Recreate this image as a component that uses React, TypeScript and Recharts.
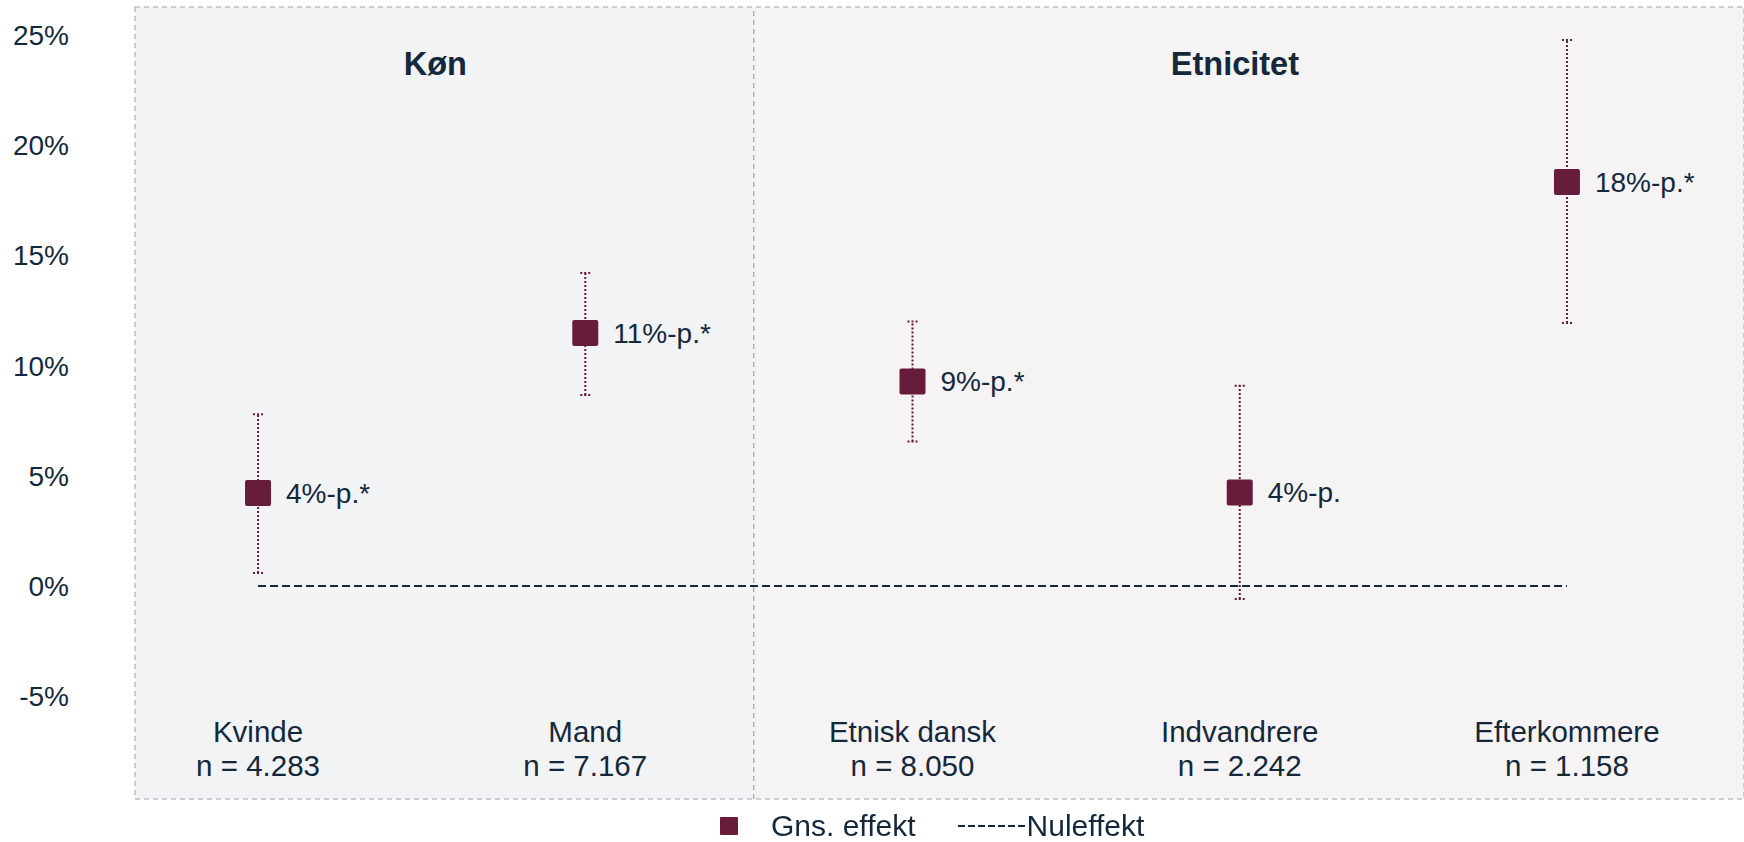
import {
  ComposedChart,
  Scatter,
  Line,
  XAxis,
  YAxis,
  ZAxis,
  ErrorBar,
  LabelList,
  ReferenceArea,
  ReferenceLine,
  Legend,
} from "recharts";

const FONT = "'Liberation Sans', Arial, sans-serif";
const TEXT = "#14283c";
const MAROON = "#661c3a";

// categories along the x axis, with sample sizes shown under each one
const categories = ["Kvinde", "Mand", "Etnisk dansk", "Indvandrere", "Efterkommere"];
const sampleSizes = ["4.283", "7.167", "8.050", "2.242", "1.158"];

// average effect in percentage points and the confidence interval
const effects = [4.22, 11.48, 9.28, 4.25, 18.33];
const lowerBounds = [0.59, 8.67, 6.56, -0.59, 11.93];
const upperBounds = [7.8, 14.2, 12.0, 9.09, 24.77];
const significant = [true, true, true, false, true];

const groupTitles = ["Køn", "Etnicitet"];
const yTicks = [-5, 0, 5, 10, 15, 20, 25];
const zeroLine = [
  { x: 0, y: 0 },
  { x: 4, y: 0 },
];

const X_DOMAIN: [number, number] = [-0.376, 4.541];
const Y_DOMAIN: [number, number] = [-9.66, 26.27];
const SPLIT = 1.515;

const points = categories.map((c, i) => ({
  x: i,
  y: effects[i],
  err: [effects[i] - lowerBounds[i], upperBounds[i] - effects[i]],
  label: `${Math.round(effects[i])}%-p.${significant[i] ? "*" : ""}`,
}));

const CategoryTick = (props: any) => {
  const { x, y, payload } = props;
  const i = payload.value;
  return (
    <g>
      <text x={x} y={y - 67} dy="0.35em" textAnchor="middle" fontSize={29.5} fill={TEXT} fontFamily={FONT}>
        {categories[i]}
      </text>
      <text x={x} y={y - 33} dy="0.35em" textAnchor="middle" fontSize={29.5} fill={TEXT} fontFamily={FONT}>
        {`n = ${sampleSizes[i]}`}
      </text>
    </g>
  );
};

const GroupTitle = (props: any) => {
  const { viewBox, text, shift = 0 } = props;
  if (!viewBox) return null;
  return (
    <text
      x={viewBox.x + viewBox.width / 2 + shift}
      y={viewBox.y + 57}
      dy="0.35em"
      textAnchor="middle"
      fontSize={32.5}
      fontWeight="bold"
      fill={TEXT}
      fontFamily={FONT}
    >
      {text}
    </text>
  );
};

const renderSquare = (props: any) => {
  const { cx, cy } = props;
  return <rect x={cx - 13} y={cy - 13} width={26} height={26} rx={2} fill={MAROON} />;
};

const renderPointLabel = (props: any) => {
  const { viewBox, value } = props;
  if (!viewBox) return null;
  const cx = viewBox.x + viewBox.width / 2;
  const cy = viewBox.y + viewBox.height / 2;
  return (
    <text x={cx + 28} y={cy} dy="0.35em" fontSize={28} fill={TEXT} fontFamily={FONT}>
      {value}
    </text>
  );
};

const renderLegend = (props: any) => {
  const { payload } = props;
  return (
    <div style={{ display: "flex", alignItems: "center", height: 36, fontSize: 30, color: TEXT, fontFamily: FONT }}>
      {(payload || []).map((entry: any) =>
        entry.type === "line" ? (
          <div key={entry.value} style={{ display: "flex", alignItems: "center", marginLeft: 42 }}>
            <svg width={68} height={4}>
              <line x1={0} y1={2} x2={68} y2={2} stroke={TEXT} strokeWidth={2} strokeDasharray="7 3" />
            </svg>
            <span style={{ marginLeft: 1 }}>{entry.value}</span>
          </div>
        ) : (
          <div key={entry.value} style={{ display: "flex", alignItems: "center" }}>
            <svg width={18} height={18}>
              <rect width={18} height={18} rx={1} fill={MAROON} />
            </svg>
            <span style={{ marginLeft: 33 }}>{entry.value}</span>
          </div>
        )
      )}
    </div>
  );
};

export default function App() {
  return (
    <div style={{ position: "fixed", left: 0, top: 0, width: 1744, height: 842, background: "#fff" }}>
      <ComposedChart width={1744} height={842} margin={{ top: 7, right: 0, bottom: 43, left: 0 }}>
        <XAxis
          type="number"
          dataKey="x"
          domain={X_DOMAIN}
          ticks={[0, 1, 2, 3, 4]}
          interval={0}
          allowDataOverflow
          axisLine={false}
          tickLine={false}
          tickSize={0}
          tickMargin={0}
          mirror
          height={1}
          tick={<CategoryTick />}
        />
        <YAxis
          type="number"
          domain={Y_DOMAIN}
          ticks={yTicks}
          allowDataOverflow
          axisLine={false}
          tickLine={false}
          tickSize={0}
          tickMargin={66}
          width={135}
          tickFormatter={(v: number) => `${v}%`}
          tick={{ fontSize: 28, fill: TEXT, fontFamily: FONT }}
        />
        <ZAxis range={[531, 531]} />
        <ReferenceArea
          x1={X_DOMAIN[0]}
          x2={SPLIT}
          fill="#f2f3f5"
          fillOpacity={1}
          stroke="none"
          label={<GroupTitle text={groupTitles[0]} shift={-9} />}
        />
        <ReferenceArea
          x1={SPLIT}
          x2={X_DOMAIN[1]}
          fill="#f5f3f4"
          fillOpacity={1}
          stroke="none"
          label={<GroupTitle text={groupTitles[1]} shift={-14} />}
        />
        <ReferenceArea
          x1={X_DOMAIN[0]}
          x2={X_DOMAIN[1]}
          fill="none"
          stroke="#bcc0c5"
          strokeWidth={1.5}
          strokeDasharray="5 4"
        />
        <ReferenceLine x={SPLIT} stroke="#8c8f94" strokeWidth={1} strokeDasharray="5 4" />
        <Scatter
          data={points}
          dataKey="y"
          name="Gns. effekt"
          fill={MAROON}
          shape={renderSquare}
          isAnimationActive={false}
        >
          <ErrorBar dataKey="err" direction="y" width={5} stroke={MAROON} strokeWidth={2} strokeDasharray="2 2" />
          <LabelList dataKey="label" content={renderPointLabel} />
        </Scatter>
        <Line
          data={zeroLine}
          dataKey="y"
          name="Nuleffekt"
          stroke={TEXT}
          strokeWidth={2}
          strokeDasharray="8 4"
          dot={false}
          activeDot={false}
          legendType="line"
          isAnimationActive={false}
        />
        <Legend
          layout="horizontal"
          verticalAlign="middle"
          align="center"
          content={renderLegend}
          wrapperStyle={{ top: 808, left: 720, width: "auto", height: 36 }}
        />
      </ComposedChart>
    </div>
  );
}
